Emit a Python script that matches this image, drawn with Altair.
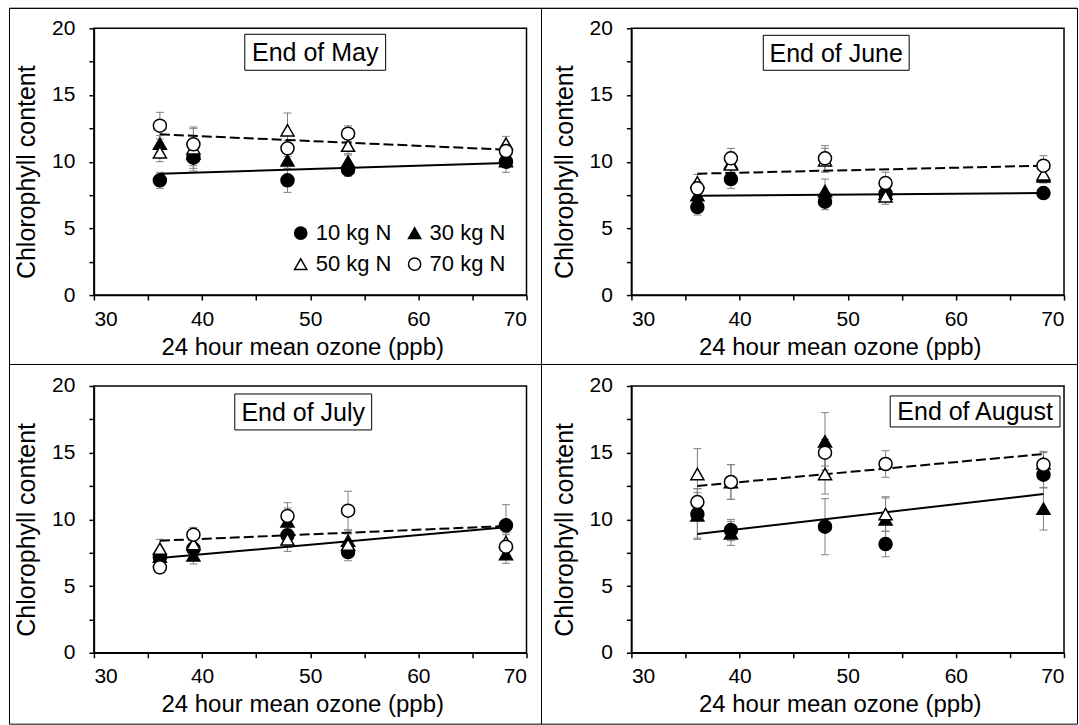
import altair as alt
import pandas as pd

FONT = "Liberation Sans"

ozone = [36.1, 39.2, 47.9, 53.5, 68.1]
groups = ["10 kg N", "30 kg N", "50 kg N", "70 kg N"]
panel_titles = ["End of May", "End of June", "End of July", "End of August"]

# chlorophyll means (per group) and error bars
may_vals = [[8.6, 10.3, 8.6, 9.4, 10.0],
            [11.35, 10.6, 10.1, 10.0, 10.05],
            [10.7, 11.0, 12.35, 11.2, 11.35],
            [12.7, 11.3, 11.0, 12.1, 10.8]]
may_errs = [[0.6, 1.0, 0.9, 0.5, 0.8],
            [0.6, 0.9, 0.6, 0.5, 0.5],
            [0.7, 1.5, 1.3, 0.6, 0.55],
            [1.0, 1.3, 0.6, 0.6, 0.5]]
jun_vals = [[6.6, 8.7, 7.0, 7.6, 7.65],
            [7.5, 9.9, 7.8, 7.6, 8.9],
            [8.45, 9.8, 10.1, 7.4, 9.05],
            [8.0, 10.25, 10.25, 8.4, 9.7]]
jun_errs = [[0.6, 0.7, 0.6, 0.4, 0.3],
            [0.5, 0.8, 0.9, 0.5, 0.5],
            [0.6, 0.9, 0.9, 0.6, 0.6],
            [0.5, 0.75, 0.95, 0.8, 0.75]]
jul_vals = [[7.15, 7.8, 8.8, 7.55, 9.55],
            [7.2, 7.3, 9.85, 8.4, 7.4],
            [7.8, 8.15, 8.5, 8.1, 8.3],
            [6.4, 8.85, 10.25, 10.65, 7.95]]
jul_errs = [[0.5, 0.6, 0.9, 0.65, 1.55],
            [0.5, 0.65, 1.0, 0.8, 0.7],
            [0.7, 0.6, 0.9, 0.8, 0.7],
            [0.4, 0.55, 1.0, 1.45, 0.9]]
aug_vals = [[10.4, 9.2, 9.45, 8.15, 13.35],
            [10.3, 8.95, 15.85, 10.0, 10.8],
            [13.4, 12.8, 13.4, 10.4, 14.2],
            [11.3, 12.8, 15.0, 14.15, 14.1]]
aug_errs = [[1.9, 0.8, 2.1, 0.95, 1.0],
            [1.7, 0.9, 2.15, 1.6, 1.6],
            [1.9, 1.3, 1.5, 1.3, 0.9],
            [1.0, 1.3, 1.0, 1.0, 0.9]]

# trend lines (end points)
trend_x = [36.1, 68.1]
trend_solid = [[9.1, 9.9], [7.45, 7.65], [7.1, 9.4], [8.9, 11.9]]
trend_dashed = [[12.05, 10.9], [9.1, 9.7], [8.4, 9.5], [12.5, 14.9]]

all_vals = [may_vals, jun_vals, jul_vals, aug_vals]
all_errs = [may_errs, jun_errs, jul_errs, aug_errs]

W, H = 433, 267

x_scale = alt.Scale(domain=[30, 70], nice=False)
y_scale = alt.Scale(domain=[0, 20], nice=False)
x_axis = alt.Axis(values=[30, 35, 40, 45, 50, 55, 60, 65, 70],
                  labelExpr="datum.value % 10 == 0 ? datum.label : ''",
                  title="24 hour mean ozone (ppb)", titleX=W / 2 - 8)
y_axis = alt.Axis(values=[0, 2.5, 5, 7.5, 10, 12.5, 15, 17.5, 20],
                  labelExpr="datum.value % 5 == 0 ? datum.label : ''",
                  title="Chlorophyll content", titleY=H / 2 + 10)


def X(f):
    return alt.X(f, type="quantitative", scale=x_scale, axis=x_axis)


def Y(f):
    return alt.Y(f, type="quantitative", scale=y_scale, axis=y_axis)


leg = alt.Legend(title=None, orient="none", legendX=196, legendY=194,
                 columns=2, direction="horizontal")

# global frame lines, pixel positions relative to panel 1 plot origin
L, T = 8.5 - 93, 7 - 27
R, B = 1077.5 - 93, 723.5 - 27
MX, MY = 541 - 93, 363.5 - 27

boxes = [
    dict(x=151, x2=292, y=6, y2=42),
    dict(x=132, x2=278, y=7, y2=42),
    dict(x=141, x2=278, y=8, y2=44),
    dict(x=259, x2=429, y=10, y2=41),
]


def panel(i):
    rows = []
    for g, name in enumerate(groups):
        for k, xv in enumerate(ozone):
            v = all_vals[i][g][k]
            e = all_errs[i][g][k]
            rows.append(dict(x=xv, y=v, lo=v - e, hi=v + e, N=name))
    df = pd.DataFrame(rows)
    base = alt.Chart(df)
    err = base.mark_rule(color="#808080", strokeWidth=1).encode(
        x=X("x"), y=Y("lo"), y2="hi:Q")
    cap_lo = base.mark_tick(orient="horizontal", size=8, thickness=1,
                            color="#808080", opacity=1).encode(x=X("x"), y=Y("lo"))
    cap_hi = base.mark_tick(orient="horizontal", size=8, thickness=1,
                            color="#808080", opacity=1).encode(x=X("x"), y=Y("hi"))
    tdf = pd.DataFrame({"x": trend_x, "solid": trend_solid[i], "dashed": trend_dashed[i]})
    tl = alt.Chart(tdf).mark_line(color="black", strokeWidth=2).encode(
        x=X("x"), y=Y("solid"))
    td = alt.Chart(tdf).mark_line(color="black", strokeWidth=2, strokeDash=[10, 4]).encode(
        x=X("x"), y=Y("dashed"))
    pts = base.mark_point(filled=True, size=170, strokeWidth=1.5,
                          opacity=1).encode(
        x=X("x"), y=Y("y"),
        shape=alt.Shape("N:N", scale=alt.Scale(domain=groups,
                        range=["circle", "triangle-up", "triangle-up", "circle"]),
                        legend=leg),
        fill=alt.Fill("N:N", scale=alt.Scale(domain=groups,
                      range=["black", "black", "white", "white"]),
                      legend=leg),
        stroke=alt.Stroke("N:N", scale=alt.Scale(domain=groups,
                          range=["black", "black", "black", "black"]),
                          legend=leg),
    )
    b = boxes[i]
    one = pd.DataFrame({"t": [panel_titles[i]]})
    rect = alt.Chart(one).mark_rect(fill="white", stroke="black", strokeWidth=1).encode(
        x=alt.value(b["x"]), x2=alt.value(b["x2"]), y=alt.value(b["y"]), y2=alt.value(b["y2"]))
    txt = alt.Chart(one).mark_text(font=FONT, fontSize=25, color="black",
                                   align="center", baseline="middle").encode(
        text="t:N", x=alt.value((b["x"] + b["x2"]) / 2), y=alt.value((b["y"] + b["y2"]) / 2 + 1))
    layers = [err, cap_lo, cap_hi, tl, td, pts, rect, txt]
    if i == 0:
        lines = pd.DataFrame({
            "x": [L, L, R, MX, L, L, L],
            "x2": [R, L, R, MX, R, R, R],
            "y": [T, T, T, T, T, MY, B],
            "y2": [T, B, B, B, T, MY, B],
        })
        for _, r in lines.iterrows():
            layers.append(alt.Chart(one).mark_rule(color="black", strokeWidth=1).encode(
                x=alt.value(float(r.x)), x2=alt.value(float(r.x2)),
                y=alt.value(float(r.y)), y2=alt.value(float(r.y2))))
    return alt.layer(*layers).properties(width=W, height=H)


chart = alt.concat(panel(0), panel(1), panel(2), panel(3), columns=2,
                   spacing={"row": 91, "column": 105}, bounds="flush").properties(
    padding={"left": 8, "top": 6, "right": 0, "bottom": 0}
).configure_view(stroke="black", strokeWidth=1.5).configure_axis(
    labelFont=FONT, titleFont=FONT, labelFontSize=21, titleFontSize=24,
    labelColor="black", titleColor="black", titleFontWeight="normal",
    domainColor="black", domainWidth=1.5, tickColor="black", tickWidth=1.5,
    tickSize=5, grid=False,
).configure_axisY(titlePadding=12, labelPadding=14, titleFontSize=25).configure_axisX(
    titlePadding=6, labelPadding=8).configure_legend(
    labelFont=FONT, labelFontSize=22, labelColor="black", symbolSize=150,
    symbolStrokeWidth=1.5, labelOffset=4,
    columnPadding=12, rowPadding=9, padding=0,
)

chart.save("out.html", embed_options={"renderer": "svg", "actions": False})
